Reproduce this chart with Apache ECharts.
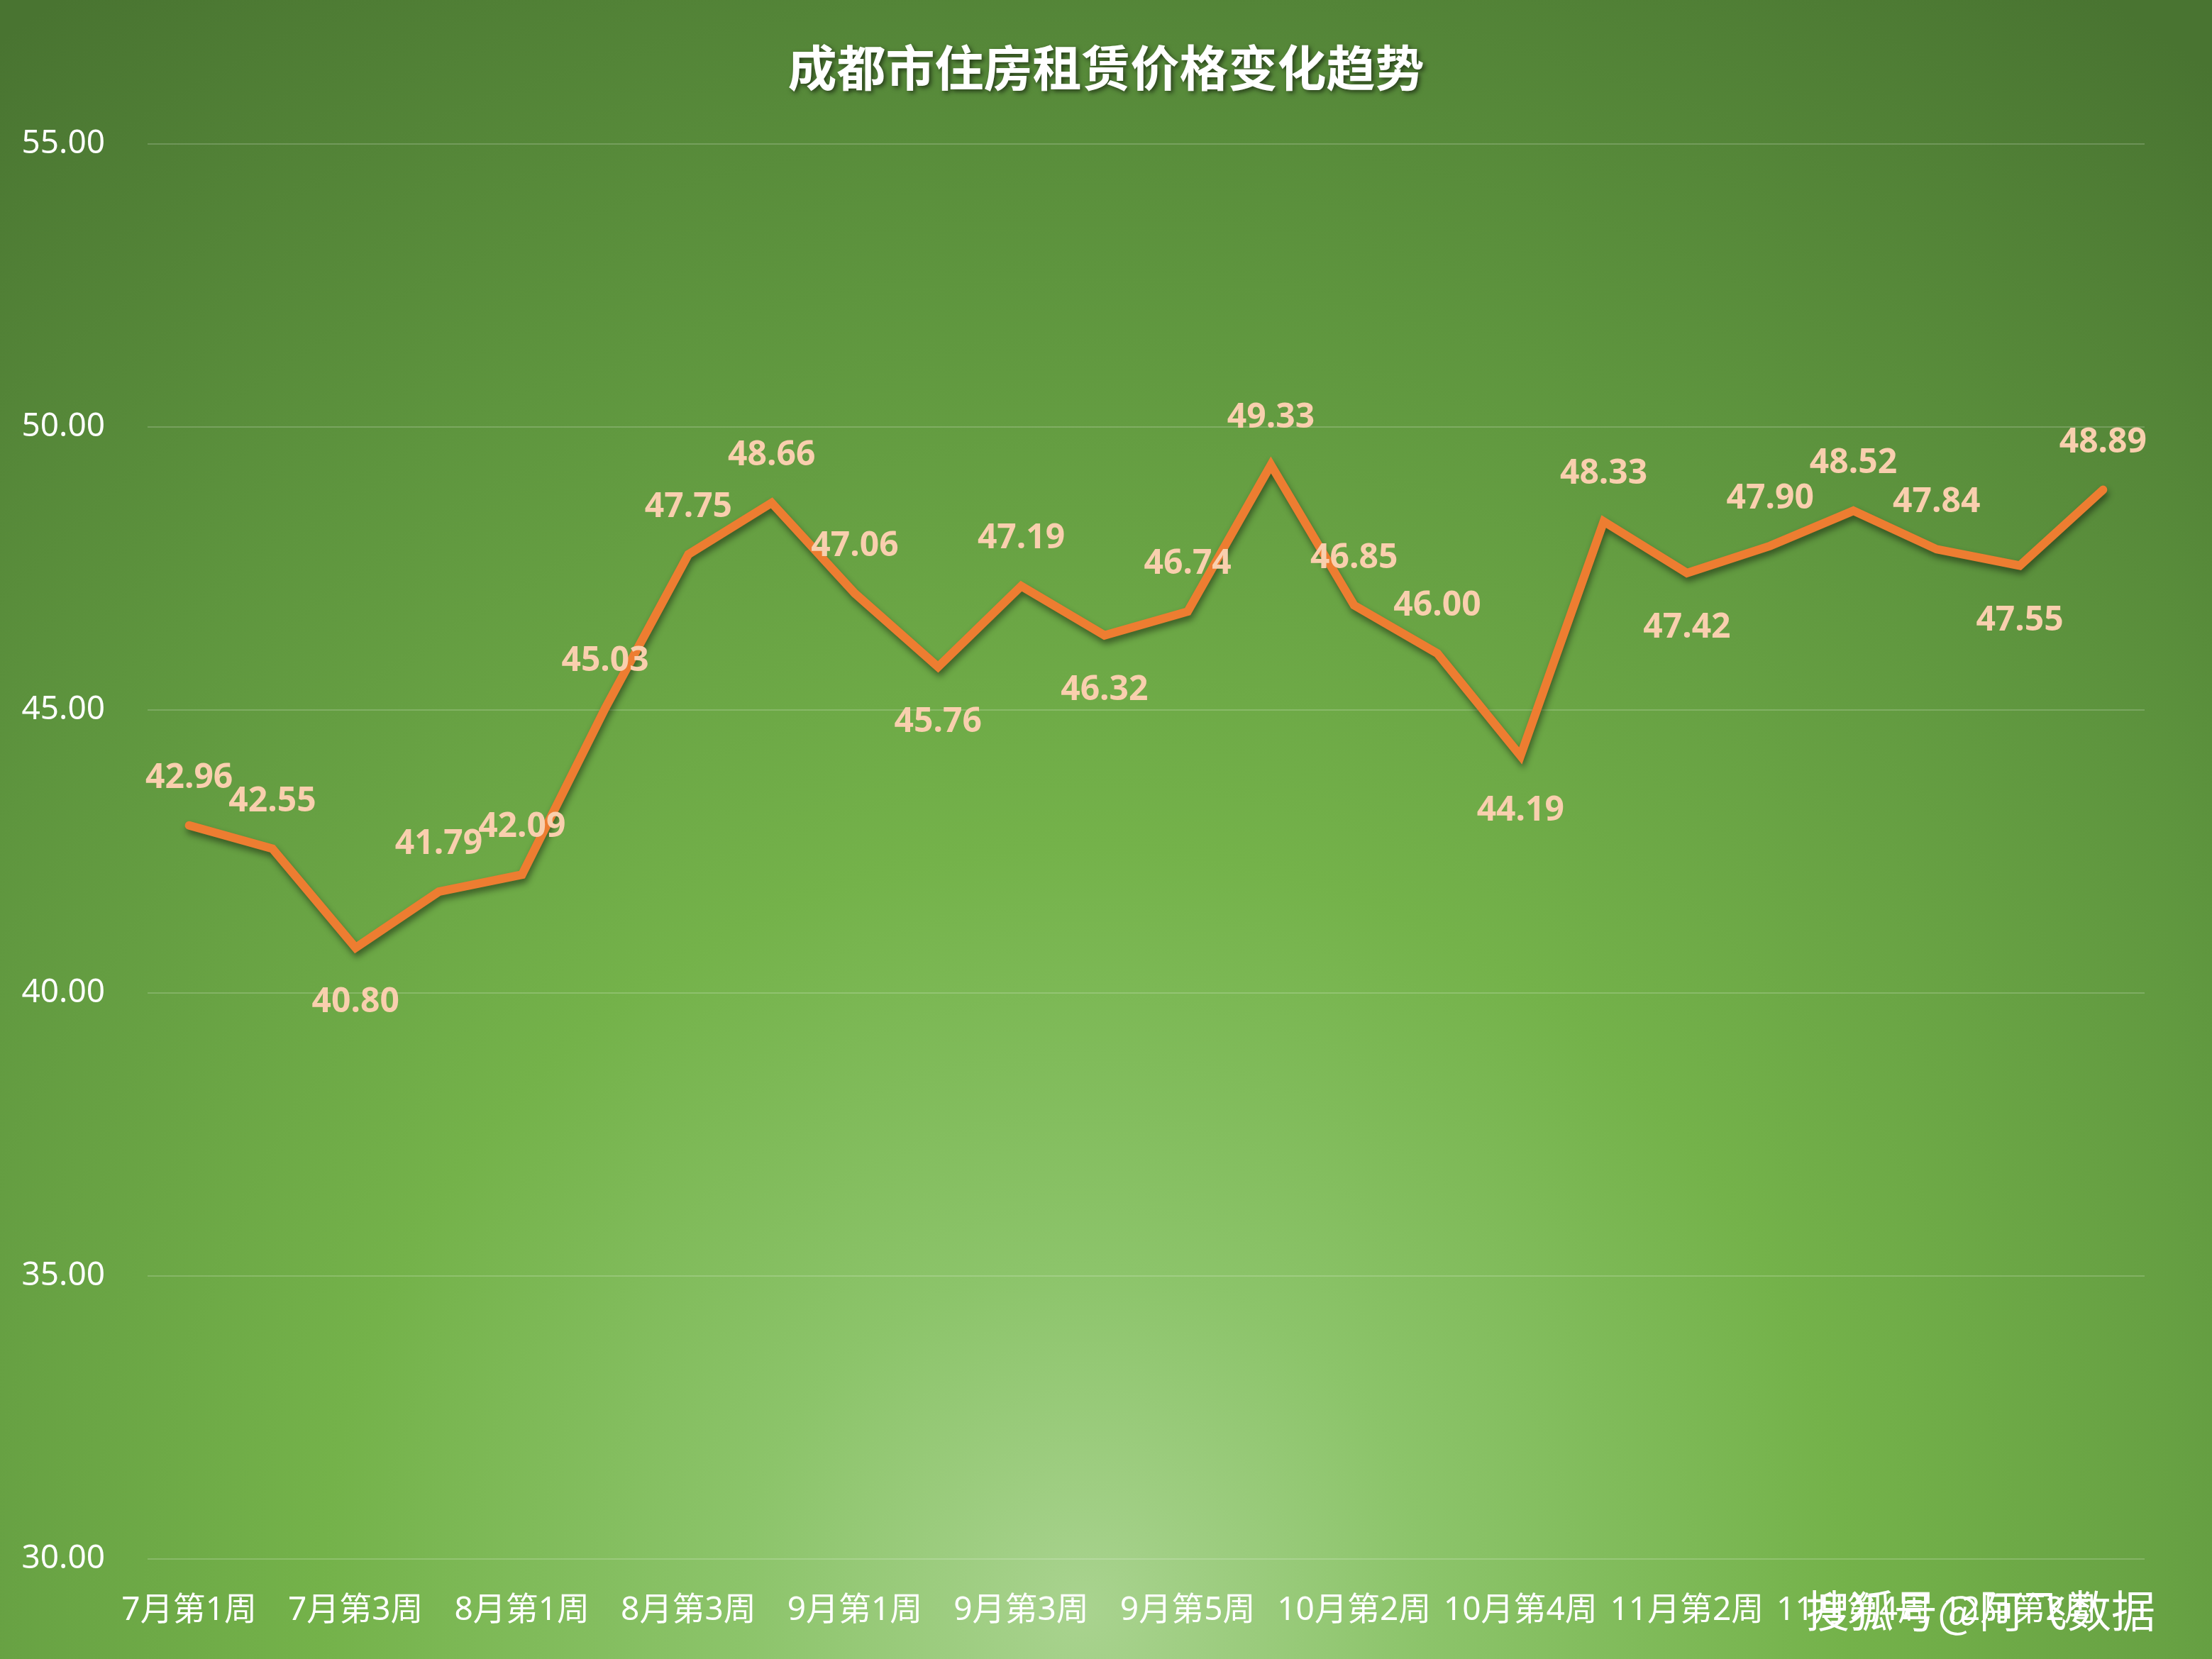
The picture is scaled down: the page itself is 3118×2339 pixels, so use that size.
<!DOCTYPE html>
<html>
<head>
<meta charset="utf-8">
<script src="https://cdn.jsdelivr.net/npm/echarts@6/dist/echarts.min.js"></script>
<style>
html,body{margin:0;padding:0;width:3118px;height:2339px;overflow:hidden;}
#chart{width:3118px;height:2339px;}
</style>
</head>
<body>
<div id="chart"></div>
<script>
const titleText = '成都市住房租赁价格变化趋势';
const categories = ['7月第1周','7月第2周','7月第3周','7月第4周','8月第1周','8月第2周','8月第3周','8月第4周','9月第1周','9月第2周','9月第3周','9月第4周','9月第5周','10月第1周','10月第2周','10月第3周','10月第4周','11月第1周','11月第2周','11月第3周','11月第4周','12月第1周','12月第2周','12月第3周'];
const prices = [42.96,42.55,40.80,41.79,42.09,45.03,47.75,48.66,47.06,45.76,47.19,46.32,46.74,49.33,46.85,46.00,44.19,48.33,47.42,47.90,48.52,47.84,47.55,48.89];
const yMin = 30, yMax = 55, yStep = 5;
const watermark = '搜狐号@阿飞数据';

const font = "'Noto Sans', 'Noto Sans CJK SC', sans-serif";
const labelColor = '#f9cfae';

const seriesData = prices.map((v, i) => {
  const prev = i > 0 ? prices[i - 1] : Infinity;
  const next = i < prices.length - 1 ? prices[i + 1] : Infinity;
  const below = v < prev && v < next;
  return {
    value: v,
    label: below ? { position: 'bottom', distance: 53 } : { position: 'top', distance: 42 }
  };
});

const chart = echarts.init(document.getElementById('chart'), null, { renderer: 'canvas' });
chart.setOption({
  animation: false,
  backgroundColor: {
    type: 'radial', x: 0.49, y: 0.97, r: 1.15,
    colorStops: [
      { offset: 0, color: '#a9d38f' },
      { offset: 0.18, color: '#8cc46a' },
      { offset: 0.4, color: '#74b24a' },
      { offset: 0.7, color: '#5e953e' },
      { offset: 1, color: '#497431' }
    ]
  },
  title: {
    text: titleText,
    left: 'center',
    top: 56,
    textStyle: {
      color: '#ffffff',
      fontSize: 69,
      fontWeight: 'bold',
      fontFamily: "'Noto Sans CJK SC', sans-serif",
      textShadowColor: 'rgba(0,0,0,0.55)',
      textShadowBlur: 6,
      textShadowOffsetX: 3,
      textShadowOffsetY: 3
    }
  },
  grid: { left: 208, right: 95, top: 203, bottom: 141, containLabel: false },
  xAxis: {
    type: 'category',
    data: categories,
    boundaryGap: true,
    axisLine: { show: false },
    axisTick: { show: false },
    axisLabel: {
      interval: 1,
      color: '#ffffff',
      fontSize: 46,
      fontFamily: font,
      margin: 50
    }
  },
  yAxis: {
    type: 'value',
    min: yMin, max: yMax, interval: yStep,
    axisLine: { show: false },
    axisTick: { show: false },
    splitLine: { lineStyle: { color: 'rgba(255,255,255,0.18)', width: 2 } },
    axisLabel: {
      color: '#ffffff',
      fontSize: 46,
      fontFamily: font,
      margin: 60,
      formatter: v => v.toFixed(2)
    }
  },
  series: [{
    type: 'line',
    data: seriesData,
    symbol: 'circle',
    symbolSize: 1,
    showSymbol: true,
    itemStyle: { color: 'rgba(237,125,49,0)' },
    lineStyle: {
      color: '#ed7d31',
      width: 12,
      cap: 'round',
      join: 'miter',
      shadowColor: 'rgba(0,0,0,0.45)',
      shadowBlur: 10,
      shadowOffsetX: 2,
      shadowOffsetY: 6
    },
    label: {
      show: true,
      color: labelColor,
      fontSize: 48,
      fontWeight: 'bold',
      fontFamily: font,
      formatter: p => p.value.toFixed(2)
    },
    labelLayout: { hideOverlap: false }
  }],
  graphic: [{
    type: 'text',
    right: 80,
    top: 2240,
    z: 100,
    style: {
      text: watermark,
      fill: '#ffffff',
      font: "62px 'Noto Sans CJK SC', sans-serif",
      shadowColor: 'rgba(0,0,0,0.9)',
      shadowOffsetX: 4,
      shadowOffsetY: 4,
      shadowBlur: 1
    }
  }]
});
</script>
</body>
</html>
